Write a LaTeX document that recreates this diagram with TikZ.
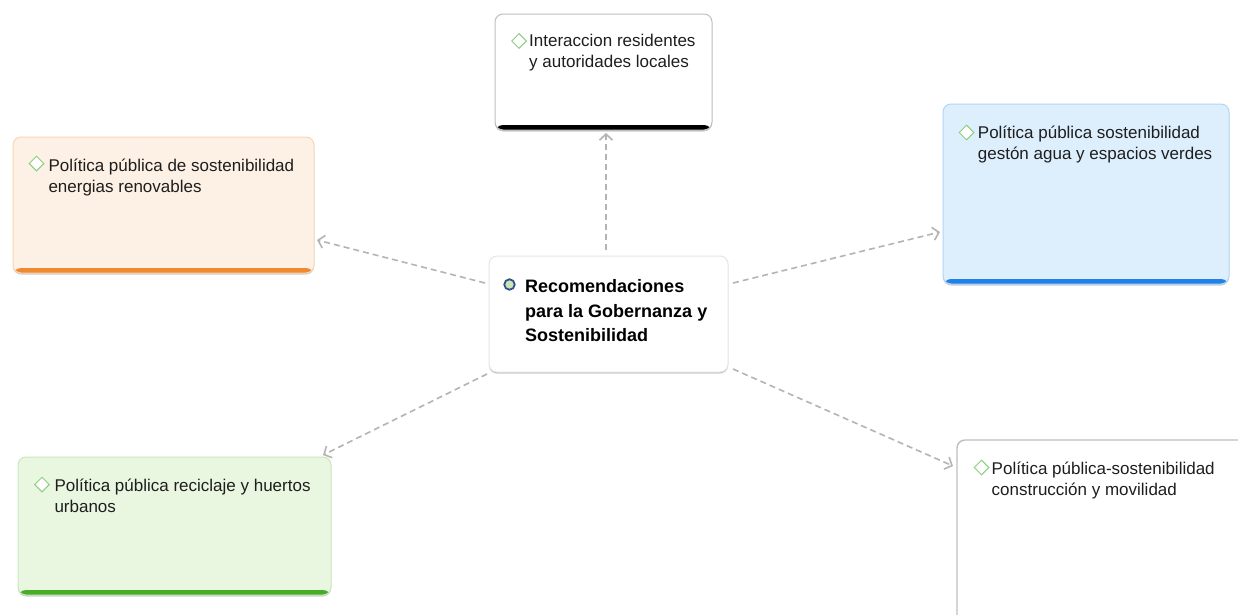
\documentclass[tikz,border=0pt]{standalone}
\usepackage{fontspec}
\setmainfont{Liberation Sans}
\usetikzlibrary{arrows.meta,shapes.geometric,shadows}
\definecolor{txt}{RGB}{30,30,30}
\definecolor{lnk}{RGB}{180,180,180}
\definecolor{orfill}{RGB}{253,240,228}
\definecolor{ordraw}{RGB}{248,214,182}
\definecolor{orbar}{RGB}{240,138,48}
\definecolor{blfill}{RGB}{221,239,253}
\definecolor{bldraw}{RGB}{178,214,246}
\definecolor{blbar}{RGB}{32,130,232}
\definecolor{grfill}{RGB}{233,247,225}
\definecolor{grdraw}{RGB}{200,232,188}
\definecolor{grbar}{RGB}{72,172,42}
\definecolor{dia}{RGB}{140,206,128}
\definecolor{ringc}{RGB}{50,80,140}
\definecolor{ringf}{RGB}{200,230,180}
\tikzset{
  card/.style={rectangle, rounded corners=8pt, outer sep=0pt, inner sep=0pt, anchor=north west,
    drop shadow={shadow xshift=0pt, shadow yshift=-1.5pt, opacity=0.2, fill=black}},
  cardbar/.style={path picture={\fill[#1] ([yshift=5pt]path picture bounding box.south west) rectangle (path picture bounding box.south east);}},
  txtlbl/.style={anchor=north west, inner sep=0pt, align=left, text=txt,
    font=\fontsize{17}{21}\selectfont},
  icon/.style={diamond, draw=dia, line width=1pt, minimum size=15pt, inner sep=0pt, fill=white},
  link/.style={draw=lnk, line width=1.6pt, dash pattern=on 6pt off 4pt,
    -{Straight Barb[length=6pt,width=13pt,line width=1.6pt]}},
}
\begin{document}
\begin{tikzpicture}[x=1pt,y=-1pt]
\clip (0,0) rectangle (1238,614);
\fill[white] (0,0) rectangle (1238,614);

% boxes
\node[card, draw=black!25, fill=white, line width=1pt, cardbar=black, minimum width=217pt, minimum height=116pt] (t) at (495,14) {};
\node[card, draw=ordraw, fill=orfill, line width=1pt, cardbar=orbar, minimum width=301pt, minimum height=136pt] (o) at (13,137) {};
\node[card, draw=bldraw, fill=blfill, line width=1pt, cardbar=blbar, minimum width=286pt, minimum height=180pt] (b) at (943,104) {};
\node[card, draw=grdraw, fill=grfill, line width=1pt, cardbar=grbar, minimum width=313pt, minimum height=138pt] (g) at (18,457) {};
\node[card, draw=black!25, fill=white, line width=1.4pt, minimum width=300pt, minimum height=200pt] (r) at (957,440) {};
\node[card, draw=black!10, fill=white, line width=1pt, minimum width=239pt, minimum height=116pt,
  drop shadow={shadow xshift=0pt, shadow yshift=-1pt, opacity=0.08, fill=black}] (c) at (489,256) {};

% icons
\node[icon] (tm) at (519,41) {};
\node[icon] (om) at (36.5,163.5) {};
\node[icon] (bm) at (966.5,132.5) {};
\node[icon] (gm) at (42,484.5) {};
\node[icon] (rm) at (981.5,467.5) {};
\node[circle, draw=ringc, fill=ringf, line width=1.8pt, minimum size=10.5pt, inner sep=0pt] (cm) at (509.5,284.5) {};

% texts
\node[txtlbl] (tl) at (529,30.7) {\rule{0pt}{16pt}Interaccion residentes\\y autoridades locales};
\node[txtlbl] (ol) at (48.3,155.7) {\rule{0pt}{16pt}Política pública de sostenibilidad\\energias renovables};
\node[txtlbl] (bl) at (977.7,122.3) {\rule{0pt}{16pt}Política pública sostenibilidad\\gestón agua y espacios verdes};
\node[txtlbl] (gl) at (54.3,475.7) {\rule{0pt}{16pt}Política pública reciclaje y huertos\\urbanos};
\node[txtlbl] (rl) at (991.5,458.3) {\rule{0pt}{16pt}Política pública-sostenibilidad\\construcción y movilidad};
\node[txtlbl, font=\fontsize{18}{24.5}\selectfont\bfseries, text=black] (cl) at (525,272.7)
  {\rule{0pt}{20pt}Recomendaciones\\para la Gobernanza y\\Sostenibilidad};

% connectors
\draw[link] ([xshift=-2.5pt,yshift=6pt]c.north) -- ([xshift=2.5pt,yshift=-3pt]t.south);
\draw[link] ([xshift=-4pt,yshift=-27pt]c.north west) -- ([xshift=3pt,yshift=-35pt]o.east);
\draw[link] ([xshift=5pt,yshift=-27pt]c.north east) -- ([xshift=-3pt,yshift=-38pt]b.west);
\draw[link] ([xshift=-2pt,yshift=-2pt]c.south west) -- ([xshift=-8pt,yshift=2pt]g.north east);
\draw[link] ([xshift=5pt,yshift=3pt]c.south east) -- ([xshift=-4pt,yshift=-26pt]r.north west);
\end{tikzpicture}
\end{document}
